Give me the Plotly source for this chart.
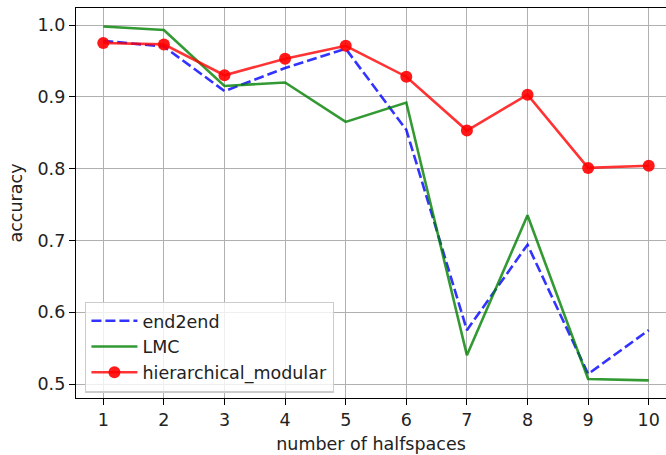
import plotly.graph_objects as go

halfspaces = [1, 2, 3, 4, 5, 6, 7, 8, 9, 10]
end2end = [0.978, 0.970, 0.908, 0.940, 0.967, 0.854, 0.575, 0.694, 0.514, 0.575]
lmc = [0.998, 0.993, 0.915, 0.920, 0.865, 0.892, 0.540, 0.735, 0.507, 0.505]
hierarchical_modular = [0.975, 0.973, 0.930, 0.953, 0.971, 0.928, 0.853, 0.903, 0.801, 0.804]
y_ticks = [0.5, 0.6, 0.7, 0.8, 0.9, 1.0]

font = "DejaVu Sans"
fs = 17.5
fig = go.Figure()
fig.add_trace(go.Scatter(x=halfspaces, y=end2end, mode="lines", name="end2end",
                         line=dict(color="rgba(0,0,255,0.8)", width=2.6, dash="10px,4px")))
fig.add_trace(go.Scatter(x=halfspaces, y=lmc, mode="lines", name="LMC",
                         line=dict(color="rgba(0,128,0,0.8)", width=2.6)))
fig.add_trace(go.Scatter(x=halfspaces, y=hierarchical_modular, mode="lines+markers",
                         name="hierarchical_modular",
                         line=dict(color="rgba(255,0,0,0.8)", width=2.6),
                         marker=dict(color="rgba(255,0,0,0.9)", size=12)))

fig.update_layout(
    width=666, height=455,
    margin=dict(l=76, r=0, t=8, b=57),
    paper_bgcolor="white", plot_bgcolor="white",
    font=dict(family=font, size=fs, color="#222222"),
    showlegend=True,
    legend=dict(x=0.0153, y=0.014, xanchor="left", yanchor="bottom",
                bgcolor="rgba(255,255,255,0.8)", bordercolor="#cccccc", borderwidth=1.4,
                font=dict(size=fs, color="#222222"), tracegroupgap=0, itemwidth=46),
)
fig.update_xaxes(range=[0.55, 10.285], tickvals=halfspaces, ticktext=[str(v) for v in halfspaces],
                 showgrid=True, gridcolor="#b0b0b0", gridwidth=1.4, zeroline=False,
                 showline=True, linecolor="black", linewidth=1.4, mirror=True,
                 ticks="outside", ticklen=6, tickwidth=1.4, tickcolor="black",
                 tickfont=dict(size=fs), automargin=False,
                 title=dict(text="number of halfspaces", standoff=8, font=dict(size=fs)))
fig.update_yaxes(range=[0.4805, 1.0237], tickvals=y_ticks,
                 ticktext=[f"{v:.1f}" for v in y_ticks],
                 showgrid=True, gridcolor="#b0b0b0", gridwidth=1.4, zeroline=False,
                 showline=True, linecolor="black", linewidth=1.4, mirror=False,
                 ticks="outside", ticklen=6, tickwidth=1.4, tickcolor="black",
                 tickfont=dict(size=fs), automargin=False,
                 title=dict(text="accuracy", standoff=10, font=dict(size=fs)))
fig.write_html("out.html", config={"displayModeBar": False},
               post_script="document.body.style.margin='0px';document.body.style.overflow='hidden';")
